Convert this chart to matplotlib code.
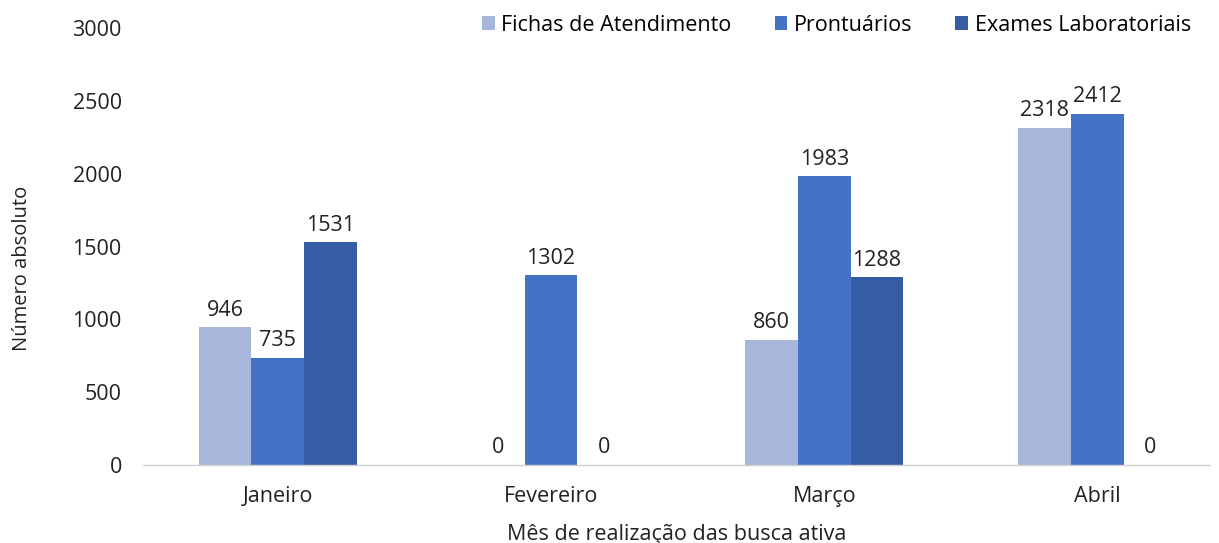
import matplotlib
matplotlib.use("Agg")
import matplotlib.pyplot as plt
import numpy as np

# --- Dados ---
meses = ["Janeiro", "Fevereiro", "Março", "Abril"]
series_nomes = ["Fichas de Atendimento", "Prontuários", "Exames Laboratoriais"]
fichas = [946, 0, 860, 2318]
prontuarios = [735, 1302, 1983, 2412]
exames = [1531, 0, 1288, 0]
yticks = [0, 500, 1000, 1500, 2000, 2500, 3000]

cores = ["#A9B6DB", "#4472C4", "#355DA3"]

plt.rcParams['font.family'] = ['Open Sans', 'DejaVu Sans']

fig = plt.figure(figsize=(12.19, 5.43), dpi=100)
ax = fig.add_axes([0.117, 0.1436, 0.876, 0.8044])

x = np.arange(len(meses))
largura = 0.193
for i, (vals, nome, cor) in enumerate(zip([fichas, prontuarios, exames], series_nomes, cores)):
    pos = x + (i - 1) * largura
    barras = ax.bar(pos, vals, width=largura, color=cor, label=nome)
    for b, v in zip(barras, vals):
        ax.text(b.get_x() + b.get_width() / 2, v + 45, str(v),
                ha='center', va='bottom', fontsize=15.5, color='#222222')

ax.set_xlim(-0.495, 3.414)
ax.set_ylim(0, 3000)
ax.set_yticks(yticks)
ax.set_xticks(x)
ax.set_xticklabels(meses)
ax.tick_params(axis='both', length=0, labelsize=15.5, colors='#222222')
ax.tick_params(axis='y', pad=15)
ax.tick_params(axis='x', pad=15)

for s in ['top', 'right', 'left']:
    ax.spines[s].set_visible(False)
ax.spines['bottom'].set_color('#D0D0D0')
ax.spines['bottom'].set_linewidth(1)

ax.set_ylabel("Número absoluto", fontsize=14.5, color='#222222')
ax.yaxis.set_label_coords(-0.104, 0.45)
ax.set_xlabel("Mês de realização das busca ativa", fontsize=15.5, color='#222222', labelpad=12)

ax.legend(loc='upper right', bbox_to_anchor=(1.0, 1.075), ncol=3, frameon=False,
          fontsize=15.5, handlelength=0.6, handleheight=0.6, columnspacing=2.0,
          handletextpad=0.3)

plt.savefig("out.png", dpi=100)
